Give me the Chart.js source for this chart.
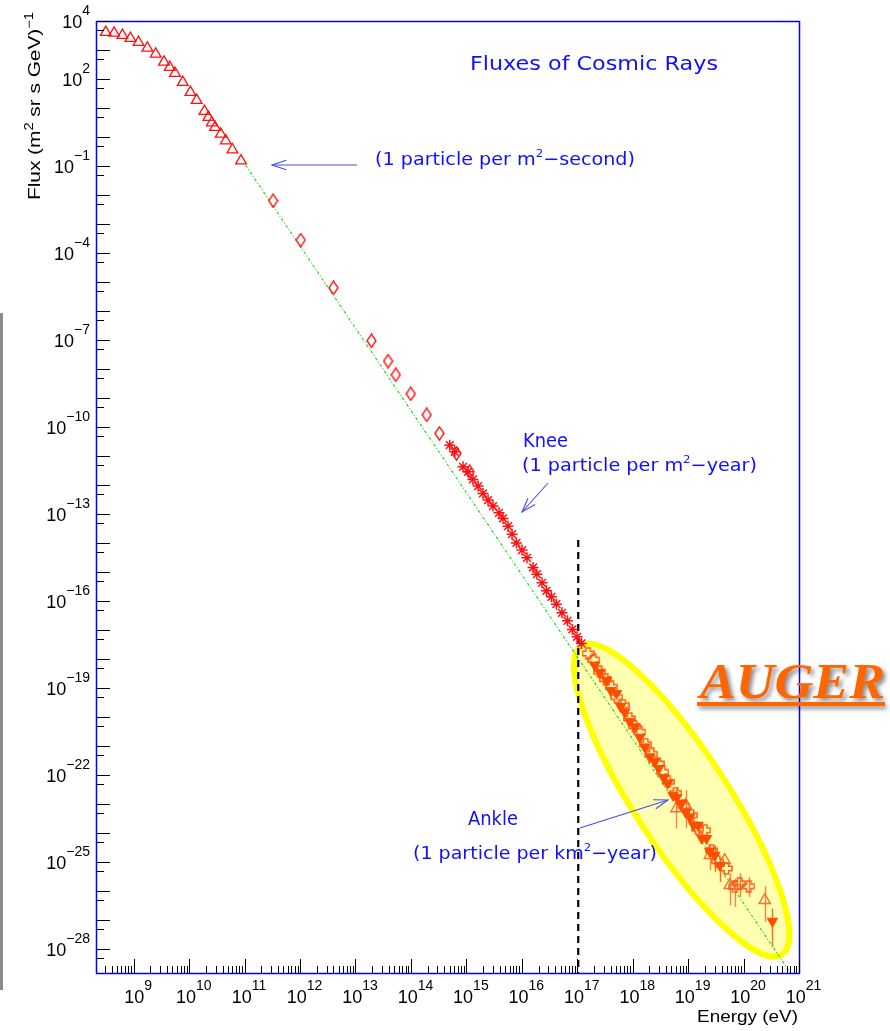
<!DOCTYPE html>
<html><head><meta charset="utf-8">
<script src="https://cdn.jsdelivr.net/npm/chart.js@4.4.1/dist/chart.umd.min.js"></script>
<style>html,body{margin:0;padding:0;background:#fff;}canvas{display:block;}</style>
</head><body>
<canvas id="c" width="890" height="1031"></canvas>
<script>
// ---------------- data (Energy in eV, Flux in (m^2 sr s GeV)^-1) ----------------
const triE = [3.0e8, 4.24e8, 6.0e8, 8.36e8, 1.17e9, 1.69e9, 2.39e9, 3.37e9, 4.28e9, 5.33e9, 7.35e9, 1.01e10, 1.31e10, 1.81e10, 2.13e10, 2.45e10, 2.81e10, 3.56e10, 4.38e10, 5.78e10, 8.26e10];
const triF = [4.07e3, 3.85e3, 3.21e3, 2.53e3, 1.85e3, 1.17e3, 7.28e2, 3.85e2, 2.53e2, 1.57e2, 76.9, 34.8, 18.5, 7.69, 4.78, 3.11, 2.16, 1.27, 0.745, 0.365, 0.152];

const diaE = [3.13e11, 9.86e11, 3.84e12, 1.86e13, 3.71e13, 5.11e13, 9.51e13, 1.85e14, 3.13e14, 6.35e14, 1.10e15];
const diaF = [6.35e-3, 2.81e-4, 6.35e-6, 9.46e-8, 1.89e-8, 6.35e-9, 1.41e-9, 2.65e-10, 6.07e-11, 1.24e-11, 2.88e-12];

const starE = [4.81e14, 5.92e14, 8.36e14, 1.03e15, 1.26e15, 1.56e15, 1.91e15, 2.36e15, 2.90e15, 3.72e15, 4.40e15, 5.41e15, 6.40e15, 7.67e15, 9.68e15, 1.19e16, 1.53e16, 1.80e16, 2.22e16, 2.67e16, 3.28e16, 4.04e16, 5.09e16, 6.38e16, 7.85e16, 9.51e16, 1.14e17];
const starF = [2.39e-11, 1.41e-11, 4.28e-12, 2.88e-12, 1.57e-12, 9.25e-13, 5.18e-13, 3.04e-13, 1.89e-13, 1.11e-13, 7.11e-14, 3.85e-14, 2.04e-14, 1.02e-14, 5.74e-15, 3.11e-15, 1.45e-15, 8.53e-16, 4.28e-16, 2.26e-16, 1.41e-16, 7.89e-17, 3.95e-17, 2.09e-17, 1.06e-17, 5.87e-18, 3.48e-18];

const augDnE = [1.98e17, 2.44e17, 3.22e17, 3.85e17, 4.89e17, 5.83e17, 6.89e17, 8.49e17, 1.04e18, 1.29e18, 1.58e18, 1.95e18, 2.40e18, 2.83e18, 3.48e18, 4.11e18, 5.13e18, 5.97e18, 7.26e18, 8.69e18, 1.03e19, 1.21e19, 1.45e19, 1.69e19, 2.05e19, 2.36e19, 2.90e19, 3.56e19, 3.18e20];
const augDnF = [6.21e-19, 3.48e-19, 1.89e-19, 8.39e-20, 6.56e-20, 2.32e-20, 1.52e-20, 7.23e-21, 4.63e-21, 2.00e-21, 9.46e-22, 4.28e-22, 2.88e-22, 1.71e-22, 8.20e-23, 5.38e-23, 2.04e-23, 1.69e-23, 1.06e-23, 5.30e-24, 3.65e-24, 1.89e-24, 1.89e-24, 6.73e-25, 6.56e-25, 2.39e-25, 1.74e-25, 7.89e-26, 9.25e-28];
const augDnErrHi = [null, null, null, null, null, null, null, null, null, null, null, null, null, null, null, null, null, null, null, null, null, null, null, null, null, null, 3.85e-25, 1.37e-25, 2.53e-27];
const augDnErrLo = [null, null, null, null, null, null, null, null, null, null, null, null, null, null, null, null, null, null, null, null, null, null, null, null, null, null, 4.52e-26, 2.04e-26, 1.20e-28];

const augCrE = [1.50e17, 1.90e17, 2.44e17, 3.13e17, 3.96e17, 4.94e17, 6.43e17, 8.49e17, 1.04e18, 1.29e18, 1.65e18, 2.11e18, 2.75e18, 3.34e18, 4.17e18, 5.73e18, 8.00e18, 1.10e19, 1.43e19, 1.91e19, 2.52e19, 3.28e19, 4.71e19, 6.65e19, 8.18e19, 1.19e20];
const augCrF = [1.57e-18, 9.53e-19, 3.65e-19, 2.03e-19, 1.11e-19, 4.93e-20, 2.59e-20, 9.02e-21, 4.82e-21, 3.11e-21, 1.16e-21, 5.38e-22, 2.53e-22, 1.30e-22, 5.87e-23, 2.43e-23, 8.67e-24, 4.18e-24, 1.42e-24, 1.27e-24, 2.59e-25, 1.07e-25, 6.07e-26, 1.41e-26, 1.85e-26, 1.49e-26];
const augCrErrHi = [null, null, null, null, null, null, null, null, null, null, null, null, null, null, null, null, null, null, null, null, null, null, null, 2.74e-26, 4.07e-26, 3.11e-26];
const augCrErrLo = [null, null, null, null, null, null, null, null, null, null, null, null, null, null, null, null, null, null, null, null, null, null, null, 2.88e-27, 6.35e-27, 6.35e-27];

const augUpE = [5.90e18, 8.69e18, 2.36e19, 4.39e19, 5.40e19, 2.31e20];
const augUpF = [7.11e-24, 9.25e-24, 1.74e-25, 1.17e-25, 1.61e-26, 4.90e-27];
const augUpErrHi = [3.95e-23, 3.04e-23, 3.85e-25, null, 4.07e-26, 1.49e-26];
const augUpErrLo = [1.45e-24, 1.49e-24, 5.30e-26, null, 3.29e-27, 8.73e-28];

const fitE = [1e11, 1e21];
const fitF = [0.106, 4.94e-30];
const kneeLineE = [1e17, 1e17];
const kneeLineF = [1.27e-14, 1.4e-29];

const xTickExps = [9, 10, 11, 12, 13, 14, 15, 16, 17, 18, 19, 20, 21];
const yTickExps = [4, 2, -1, -4, -7, -10, -13, -16, -19, -22, -25, -28];
const ellipseCenter = [7.35e18, 1.37e-23];

const pts = (xs, ys) => xs.map((x, i) => ({x: x, y: ys[i]}));

// ---------------- marker images ----------------
function makeDiamond(col) {
  const c = document.createElement('canvas'); c.width = 11; c.height = 15;
  const g = c.getContext('2d'); g.strokeStyle = col; g.lineWidth = 1.4;
  g.beginPath(); g.moveTo(5.5, 0.9); g.lineTo(10, 7.5); g.lineTo(5.5, 14.1); g.lineTo(1, 7.5); g.closePath(); g.stroke();
  return c;
}
function makeCross(col) {
  const c = document.createElement('canvas'); c.width = 13; c.height = 13;
  const g = c.getContext('2d'); g.strokeStyle = col; g.lineWidth = 1.5;
  const a = 4.3, b = 8.7, e0 = 0.9, e1 = 12.1;
  g.beginPath();
  g.moveTo(a, e0); g.lineTo(b, e0); g.lineTo(b, a); g.lineTo(e1, a); g.lineTo(e1, b); g.lineTo(b, b);
  g.lineTo(b, e1); g.lineTo(a, e1); g.lineTo(a, b); g.lineTo(e0, b); g.lineTo(e0, a); g.lineTo(a, a); g.closePath();
  g.stroke();
  return c;
}
const diamondImg = makeDiamond('#ff1010');
const crossImg = makeCross('#ff5a1a');

// ---------------- helpers ----------------
function drawRich(ctx, segs, x, y, o) {
  const fam = o.family;
  const fontFor = s => (o.style || '') + ' ' + (s.sup ? o.supSize : o.size) + 'px ' + fam;
  let w = 0; const ws = [];
  segs.forEach(s => { ctx.font = fontFor(s); const m = ctx.measureText(s.t).width; ws.push(m); w += m; });
  const sx = o.width ? o.width / w : 1;
  const tw = w * sx;
  const x0 = o.align === 'right' ? x - tw : (o.align === 'center' ? x - tw / 2 : x);
  ctx.save();
  ctx.translate(x0, y); ctx.scale(sx, 1);
  ctx.fillStyle = o.color; ctx.textBaseline = 'alphabetic'; ctx.textAlign = 'left';
  let cx = 0;
  segs.forEach((s, i) => { ctx.font = fontFor(s); ctx.fillText(s.t, cx, s.sup ? -o.rise : 0); cx += ws[i]; });
  ctx.restore();
}
function expStr(e) { return e < 0 ? '\u2212' + Math.abs(e) : String(e); }
function arrow(ctx, x1, y1, x2, y2, col) {
  ctx.save(); ctx.strokeStyle = col; ctx.lineWidth = 1.1;
  ctx.beginPath(); ctx.moveTo(x1, y1); ctx.lineTo(x2, y2); ctx.stroke();
  const ang = Math.atan2(y1 - y2, x1 - x2), L = 15, h = 0.32;
  ctx.beginPath();
  ctx.moveTo(x2 + L * Math.cos(ang + h), y2 + L * Math.sin(ang + h));
  ctx.lineTo(x2, y2);
  ctx.lineTo(x2 + L * Math.cos(ang - h), y2 + L * Math.sin(ang - h));
  ctx.stroke(); ctx.restore();
}

const AX = '"Liberation Sans", Arial, sans-serif';
const AN = '"DejaVu Sans", sans-serif';
const BLUE = '#1010ff';

const deco = {
  id: 'deco',
  beforeDatasetsDraw(chart) {
    const ctx = chart.ctx, xs = chart.scales.x, ys = chart.scales.y;
    ctx.save();
    ctx.fillStyle = '#8c8c8c'; ctx.fillRect(0, 313, 3, 677);
    const cx = xs.getPixelForValue(ellipseCenter[0]), cy = ys.getPixelForValue(ellipseCenter[1]);
    ctx.beginPath(); ctx.ellipse(cx, cy, 184, 47, 57 * Math.PI / 180, 0, 2 * Math.PI);
    ctx.fillStyle = 'rgba(255,255,0,0.3)'; ctx.fill();
    ctx.lineWidth = 6; ctx.strokeStyle = '#ffff00'; ctx.stroke();
    ctx.restore();
    // error bars
    ctx.save(); ctx.lineWidth = 1.4;
    chart.data.datasets.forEach(ds => {
      if (!ds.errHi) return;
      ctx.strokeStyle = ds.errColor;
      ds.data.forEach((p, i) => {
        if (ds.errHi[i] == null) return;
        const px = Math.round(xs.getPixelForValue(p.x)) + 0.5;
        ctx.beginPath(); ctx.moveTo(px, ys.getPixelForValue(ds.errHi[i])); ctx.lineTo(px, ys.getPixelForValue(ds.errLo[i])); ctx.stroke();
      });
    });
    ctx.restore();
  },
  afterDatasetsDraw(chart) {
    const ctx = chart.ctx, xs = chart.scales.x, ys = chart.scales.y, a = chart.chartArea;
    ctx.save();
    // frame
    ctx.strokeStyle = '#0000ff'; ctx.lineWidth = 1.5;
    ctx.strokeRect(a.left + 0.5, a.top + 0.5, a.right - a.left - 1, a.bottom - a.top - 1);
    // ticks
    ctx.strokeStyle = '#000'; ctx.lineWidth = 1;
    for (let e = 4; e >= -29; e--) {
      [[1, 13], [5, 7]].forEach(([m, len]) => {
        const v = m * Math.pow(10, e);
        if (v < ys.min || v > ys.max) return;
        const py = Math.round(ys.getPixelForValue(v)) + 0.5;
        ctx.beginPath(); ctx.moveTo(a.left + 1, py); ctx.lineTo(a.left + 1 + len, py); ctx.stroke();
      });
    }
    for (let d = 8; d <= 21; d++) {
      for (let m = 1; m <= 9; m++) {
        const v = m * Math.pow(10, d);
        if (v < xs.min * 1.01 || v > xs.max * 1.001) continue;
        const px = Math.round(xs.getPixelForValue(v)) - 0.5;
        const len = m === 1 ? 14 : 7;
        ctx.beginPath(); ctx.moveTo(px, a.bottom - 1); ctx.lineTo(px, a.bottom - 1 - len); ctx.stroke();
      }
    }
    ctx.restore();
    // tick labels
    const lab = {family: AX, size: 18, supSize: 14, rise: 13, color: '#000'};
    yTickExps.forEach(e => {
      const py = ys.getPixelForValue(Math.pow(10, e));
      drawRich(ctx, [{t: '10'}, {t: expStr(e), sup: true}], 90, py + 6.5, Object.assign({align: 'right'}, lab));
    });
    xTickExps.forEach(e => {
      const px = xs.getPixelForValue(Math.pow(10, e));
      drawRich(ctx, [{t: '10'}, {t: expStr(e), sup: true}], px + 3.5, 1003, Object.assign({align: 'center'}, lab));
    });
    // axis titles
    drawRich(ctx, [{t: 'Energy (eV)'}], 798, 1022, {family: AX, size: 17, supSize: 12, rise: 7, color: '#000', align: 'right', width: 101});
    ctx.save(); ctx.translate(40, 200); ctx.rotate(-Math.PI / 2);
    drawRich(ctx, [{t: 'Flux (m'}, {t: '2', sup: true}, {t: ' sr s GeV)'}, {t: '\u22121', sup: true}], 0, 0, {family: AX, size: 17, supSize: 12, rise: 7, color: '#000', align: 'left', width: 188});
    ctx.restore();
    // annotations
    const an = {family: AN, size: 18, supSize: 11, rise: 8, color: BLUE, align: 'left'};
    drawRich(ctx, [{t: 'Fluxes of Cosmic Rays'}], 470, 70, Object.assign({}, an, {size: 20, width: 248}));
    drawRich(ctx, [{t: '(1 particle per m'}, {t: '2', sup: true}, {t: '\u2212second)'}], 375, 165, Object.assign({}, an, {width: 260}));
    drawRich(ctx, [{t: 'Knee'}], 523, 447, Object.assign({}, an, {size: 19, width: 45}));
    drawRich(ctx, [{t: '(1 particle per m'}, {t: '2', sup: true}, {t: '\u2212year)'}], 522, 471, Object.assign({}, an, {width: 235}));
    drawRich(ctx, [{t: 'Ankle'}], 468, 825, Object.assign({}, an, {size: 19, width: 50}));
    drawRich(ctx, [{t: '(1 particle per km'}, {t: '2', sup: true}, {t: '\u2212year)'}], 413, 859, Object.assign({}, an, {width: 244}));
    const AC = '#4b4bf0';
    arrow(ctx, 357, 165, 272, 165, AC);
    arrow(ctx, 548, 483, 522, 512, AC);
    arrow(ctx, 580, 828, 668, 800, AC);
    // AUGER label
    ctx.save();
    ctx.shadowColor = 'rgba(0,0,0,0.45)'; ctx.shadowOffsetX = 3; ctx.shadowOffsetY = 3; ctx.shadowBlur = 4;
    ctx.font = 'italic bold 51px "Liberation Serif", serif';
    const w = ctx.measureText('AUGER').width;
    ctx.translate(700, 698); ctx.scale(185 / w, 1);
    ctx.fillStyle = '#ff6600'; ctx.textBaseline = 'alphabetic';
    ctx.fillText('AUGER', 0, 0);
    ctx.restore();
    ctx.save();
    ctx.shadowColor = 'rgba(0,0,0,0.45)'; ctx.shadowOffsetX = 2; ctx.shadowOffsetY = 3; ctx.shadowBlur = 4;
    ctx.fillStyle = '#ff6600'; ctx.fillRect(697, 702, 188, 4);
    ctx.restore();
  }
};

new Chart(document.getElementById('c').getContext('2d'), {
  type: 'scatter',
  data: {
    datasets: [
      {label: 'Power-law fit', data: pts(fitE, fitF), showLine: true, borderColor: '#2ad82a', borderWidth: 1.2, borderDash: [3, 2, 1, 2], pointRadius: 0, fill: false, order: 10},
      {label: 'Knee marker', data: pts(kneeLineE, kneeLineF), showLine: true, borderColor: '#000', borderWidth: 2.2, borderDash: [7, 5], pointRadius: 0, fill: false, order: 9},
      {label: 'Low energy', data: pts(triE, triF), pointStyle: 'triangle', pointRadius: 6.2, borderColor: '#ff1010', backgroundColor: 'rgba(0,0,0,0)', borderWidth: 1.3, order: 2},
      {label: 'Direct', data: pts(diaE, diaF), pointStyle: diamondImg, pointRadius: 5, order: 2},
      {label: 'Air shower', data: pts(starE, starF), pointStyle: 'star', pointRadius: 5.5, borderColor: '#ff1010', backgroundColor: '#ff1010', borderWidth: 1.5, order: 2},
      {label: 'AUGER crosses', data: pts(augCrE, augCrF), pointStyle: crossImg, pointRadius: 5, order: 1, errHi: augCrErrHi, errLo: augCrErrLo, errColor: '#ff8040'},
      {label: 'AUGER triangles', data: pts(augUpE, augUpF), pointStyle: 'triangle', pointRadius: 6.5, borderColor: '#ff6a30', backgroundColor: 'rgba(0,0,0,0)', borderWidth: 1.4, order: 1, errHi: augUpErrHi, errLo: augUpErrLo, errColor: '#ff8040'},
      {label: 'AUGER', data: pts(augDnE, augDnF), pointStyle: 'triangle', rotation: 180, pointRadius: 6, borderColor: '#ff4d00', backgroundColor: '#ff4d00', borderWidth: 1, order: 0, errHi: augDnErrHi, errLo: augDnErrLo, errColor: '#ff6a20'}
    ]
  },
  options: {
    responsive: false, animation: false, events: [], devicePixelRatio: 1,
    layout: {padding: {top: 21, right: 90, left: 0, bottom: 0}},
    plugins: {legend: {display: false}, tooltip: {enabled: false}, title: {display: false}},
    scales: {
      x: {type: 'logarithmic', min: 2e8, max: 1e21, bounds: 'data', grid: {display: false}, border: {display: false}, ticks: {display: false},
          afterFit: s => { s.height = 57; }},
      y: {type: 'logarithmic', min: 1.4e-29, max: 1e4, bounds: 'data', grid: {display: false}, border: {display: false}, ticks: {display: false},
          afterFit: s => { s.width = 96; }}
    }
  },
  plugins: [deco]
});
</script>
</body></html>
